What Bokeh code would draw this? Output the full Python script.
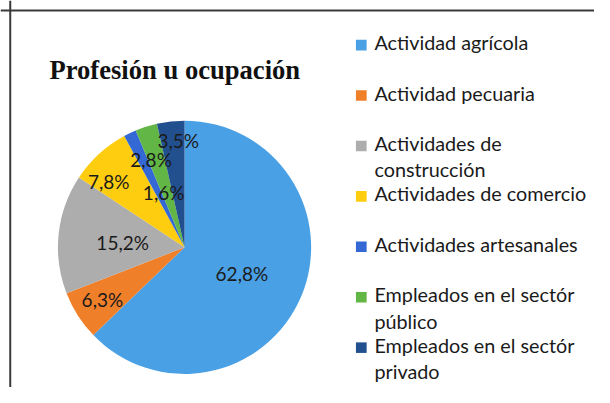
import math
from bokeh.plotting import figure
from bokeh.models import Span, ColumnDataSource
from bokeh.core.properties import value
from bokeh.embed import file_html
from bokeh.resources import INLINE

title = "Profesión u ocupación"
categories = [
    "Actividad agrícola",
    "Actividad pecuaria",
    "Actividades de\nconstrucción",
    "Actividades de comercio",
    "Actividades artesanales",
    "Empleados en el sectór\npúblico",
    "Empleados en el sectór\nprivado",
]
shares = [62.8, 6.3, 15.2, 7.8, 1.6, 2.8, 3.5]
labels = ["62,8%", "6,3%", "15,2%", "7,8%", "1,6%", "2,8%", "3,5%"]

# styling
colors = ["#4AA0E4", "#F07F2A", "#ADADAD", "#FFCD10", "#3468D4", "#62B646", "#22508F"]
label_radius = [0.50, 0.77, 0.49, 0.80, 0.47, 0.75, 0.86]
label_angle_shift = [2, 0, -2, -6, 5, -3, 3]  # degrees, clockwise

# canvas in reference-pixel units
RW, RH = 610, 403
W, H = 594, 387
p = figure(width=W, height=H, x_range=(0, RW), y_range=(0, RH),
           output_backend="svg", toolbar_location=None, min_border=0,
           x_axis_location=None, y_axis_location=None)
p.grid.visible = False
p.outline_line_color = None
p.background_fill_color = "white"
p.border_fill_color = "white"

# chart box lines (top and left)
p.add_layout(Span(location=RH - 10.5, dimension="width", line_color="#3a3a3a", line_width=2))
p.add_layout(Span(location=10, dimension="height", line_color="#3a3a3a", line_width=2))

cx, cy, R = 189, RH - 257, 130
total = sum(shares)
starts, ends, lx, ly = [], [], [], []
cum = 0.0
for s, rf, sh in zip(shares, label_radius, label_angle_shift):
    a0 = cum / total
    cum += s
    a1 = cum / total
    starts.append(math.pi / 2 - a1 * 2 * math.pi)
    ends.append(math.pi / 2 - a0 * 2 * math.pi)
    mid = math.pi / 2 - (a0 + a1) * math.pi - math.radians(sh)
    lx.append(cx + rf * R * math.cos(mid))
    ly.append(cy + rf * R * math.sin(mid))

src = ColumnDataSource(dict(start=starts, end=ends, color=colors, lx=lx, ly=ly, label=labels))
p.wedge(x=cx, y=cy, radius=R, start_angle="start", end_angle="end",
        fill_color="color", line_color=None, source=src)
p.text(x="lx", y="ly", text="label", source=src, text_font=value("Lato"),
       text_font_size="19px", text_color="#1a1a1a", text_align="center", text_baseline="middle")

# title
p.text(x=[179], y=[RH - 72], text=[title], text_font=value("Liberation Serif"), text_font_style="bold",
       text_font_size="26.6px", text_color="#111111", text_align="center", text_baseline="alphabetic")

# legend
row_y = [RH - (46.5 + 52.5 * i) for i in range(len(categories))]
leg = ColumnDataSource(dict(y=row_y, ty=[y + 15.6 for y in row_y], label=categories, color=colors))
p.rect(x=370.5, y="y", width=11, height=11, fill_color="color", line_color=None, source=leg)
p.text(x=384, y="ty", text="label", source=leg, text_font=value("Lato"), text_font_size="19.8px",
       text_color="#1a1a1a", text_align="left", text_baseline="top", text_line_height=1.1)

open("out.html", "w").write(file_html(p, INLINE))
